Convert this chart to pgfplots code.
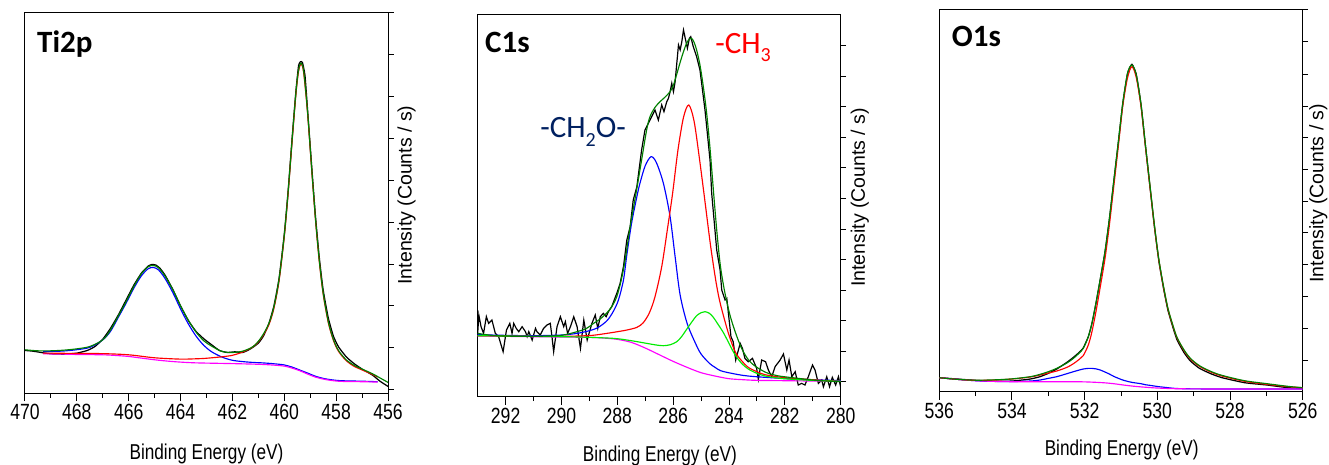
\documentclass[border=0pt]{standalone}
\usepackage{fontspec}
\usepackage{pgfplots}
\pgfplotsset{compat=1.18}
\newfontfamily\narrowfont{Liberation Sans}[FakeStretch=0.8]
\newfontfamily\arialfont{Liberation Sans}
\newfontfamily\calibri{Carlito}
\definecolor{dkgreen}{RGB}{0,128,0}
\definecolor{ltgreen}{RGB}{0,235,0}
\definecolor{navy}{RGB}{0,32,96}
\definecolor{mag}{RGB}{255,0,255}
\pgfplotsset{
 xpsaxis/.style={
  scale only axis, anchor=south west, x dir=reverse,
  axis line style={line width=1pt},
  xtick pos=lower, ytick pos=right, tick align=outside,
  minor x tick num=1,
  major tick length=8pt, minor tick length=4.5pt,
  every tick/.style={black, line width=1pt},
  ytick style={/pgfplots/major tick length=5.5pt},
  yticklabels={},
  /pgf/number format/assume math mode=true,
  /pgf/number format/1000 sep={},
  xticklabel style={font=\narrowfont\fontsize{22}{22}\selectfont},
  xlabel={Binding Energy (eV)},
  ylabel={Intensity (Counts / s)},
  every axis x label/.style={anchor=base, font=\narrowfont\fontsize{21.5}{22}\selectfont},
  every axis y label/.style={rotate=90, anchor=center, font=\arialfont\fontsize{19.5}{20}\selectfont},
  ymin=0, no marks,
  every axis plot/.append style={line width=1.15pt},
 }
}
\begin{document}
\begin{tikzpicture}
\useasboundingbox (0,0) rectangle (1329pt,464pt);
% ---------------- Ti2p ----------------
\begin{axis}[xpsaxis, at={(25pt,71pt)}, width=363pt, height=380pt,
  xmin=456, xmax=470, ymax=1144, xtick={456,458,...,470},
  ytick={10,136,262,388,514,640,766,892,1018,1144},
  xlabel style={at={(axis description cs:0.5,-0.174)}},
  ylabel style={at={(axis description cs:1.051,0.521)}}]
\addplot[black, line width=1.25pt, smooth, tension=0.3] coordinates {
(470.0,128)(469.7,126)(469.3,121)(469.0,118)(468.5,117)(468.0,120)(467.6,128)(467.3,140)
(467.0,162)(466.7,195)(466.4,235)(466.1,280)(465.8,325)(465.5,362)(465.25,382)(465.1,387)
(464.95,385)(464.8,376)(464.6,355)(464.3,312)(464.0,262)(463.7,218)(463.4,185)(463.1,163)
(462.8,145)(462.5,128)(462.2,122)(461.9,124)(461.6,122)(461.3,133)(461.0,150)(460.8,172)
(460.6,208)(460.4,262)(460.2,346)(460.0,478)(459.85,610)(459.7,765)(459.55,910)(459.45,985)
(459.38,997)(459.3,995)(459.2,955)(459.1,850)(458.95,690)(458.8,535)(458.65,408)(458.5,310)
(458.3,225)(458.1,170)(457.9,138)(457.6,108)(457.3,88)(457.0,72)(456.6,54)(456.3,35)(456.0,20)};
\addplot[blue, smooth] coordinates {
(469.3,125)(469.0,125)(468.5,126.5)(468.0,130.4)(467.5,137.5)(467.0,160)(466.7,186)(466.4,228)
(466.1,270.5)(465.8,316)(465.5,354)(465.25,374)(465.05,378)(464.85,370.5)(464.6,345)(464.3,302.5)
(464.0,253)(463.7,208)(463.4,171)(463.1,143)(462.8,124)(462.4,108)(462.0,98.5)(461.6,94.5)
(461.2,92)(460.8,90.5)(460.4,88)(460.0,84.5)(459.7,78)(459.4,69)(459.1,60)(458.8,50.5)
(458.5,44)(458.2,40)(457.8,37)(457.0,35.5)(456.4,34)};
\addplot[mag, smooth] coordinates {
(469.3,118)(468.5,117)(468.0,116)(467.0,115)(466.5,113)(466.0,110)(465.5,105)(465.0,100)
(464.5,96)(464.0,93)(463.5,91)(463.0,90)(462.0,88.5)(461.0,86.5)(460.5,84.5)(460.0,81)
(459.7,75)(459.4,67)(459.1,57)(458.8,48)(458.5,42)(458.2,38)(457.8,35)(457.0,34)(456.4,33)};
\addplot[red, smooth] coordinates {
(469.3,120)(469.0,120)(468.0,119)(467.0,118.5)(466.0,115)(465.0,106)(464.0,102)(463.4,103)
(463.1,104)(462.8,106)(462.4,109)(462.0,113.5)(461.6,123.5)(461.2,139.5)(460.9,164)(460.6,204.5)
(460.4,255)(460.2,338.5)(460.0,471)(459.85,603)(459.7,756)(459.55,901)(459.45,968)(459.35,991)
(459.25,963)(459.1,841)(458.95,680)(458.8,525)(458.65,396)(458.5,298)(458.3,211)(458.1,157.5)
(457.9,124.5)(457.6,96.5)(457.3,80)(457.0,69.5)(456.6,56)(456.4,48)};
\addplot[dkgreen, smooth] coordinates {
(470.0,130)(469.5,127)(469.0,127)(468.5,129)(468.0,133)(467.5,140)(467.0,160)(466.7,190)
(466.4,232)(466.1,275)(465.8,321)(465.5,360)(465.25,380)(465.05,384)(464.85,377)(464.6,352)
(464.3,311)(464.0,262)(463.7,219)(463.4,183)(463.1,157)(462.8,141)(462.4,125)(462.0,122)
(461.6,126)(461.2,140)(460.9,166)(460.6,208)(460.4,259)(460.2,343)(460.0,475)(459.85,607)
(459.7,760)(459.55,905)(459.45,972)(459.35,993)(459.25,967)(459.1,845)(458.95,683)(458.8,528)
(458.65,399)(458.5,301)(458.3,214)(458.1,160)(457.9,127)(457.6,99)(457.3,83)(457.0,72)
(456.6,58)(456.3,45)(456.0,32)};
\node[anchor=base west, inner sep=0pt, font=\calibri\bfseries\fontsize{31}{31}\selectfont]
  at (axis description cs:0.033,0.897) {Ti2p};
\end{axis}
% ---------------- C1s ----------------
\begin{axis}[xpsaxis, at={(477.7pt,67.3pt)}, width=363pt, height=381.7pt,
  xmin=280, xmax=293, ymax=1145, xtick={280,282,...,292},
  ytick={45,137,228,320,412,503,595,687,778,870,962,1053},
  xlabel style={at={(axis description cs:0.502,-0.171)}},
  ylabel style={at={(axis description cs:1.053,0.522)}}]
\addplot[black, line width=1.2pt] coordinates {
(293.0,190)(292.96,245)(292.88,210)(292.79,190)(292.69,240)(292.61,220)(292.49,230)(292.37,190)
(292.25,180)(292.09,135)(291.97,200)(291.85,220)(291.77,190)(291.71,220)(291.62,205)(291.53,195)
(291.41,210)(291.29,195)(291.23,180)(291.17,195)(291.05,170)(290.93,205)(290.88,195)(290.76,185)
(290.64,205)(290.52,215)(290.40,220)(290.34,180)(290.28,135)(290.16,210)(290.04,240)(289.92,210)
(289.86,225)(289.78,190)(289.68,210)(289.56,240)(289.44,210)(289.32,145)(289.20,230)(289.08,170)
(288.91,220)(288.79,245)(288.70,205)(288.61,240)(288.5,250)(288.4,240)(288.32,255)(288.2,270)
(288.02,310)(287.9,340)(287.78,390)(287.66,470)(287.54,510)(287.43,590)(287.3,630)(287.13,740)
(287.01,800)(286.95,810)(286.77,840)(286.65,860)(286.53,830)(286.41,875)(286.33,855)(286.23,885)
(286.17,895)(286.11,915)(286.05,940)(285.99,915)(285.93,945)(285.81,1055)(285.75,1040)(285.69,1065)
(285.63,1100)(285.58,1080)(285.49,1045)(285.42,1075)(285.37,1080)(285.28,1050)(285.16,1020)(285.04,980)
(284.98,940)(284.86,860)(284.74,760)(284.68,710)(284.62,610)(284.44,440)(284.32,380)(284.26,320)
(284.14,290)(284.08,295)(283.93,180)(283.85,165)(283.76,110)(283.6,160)(283.52,145)(283.43,115)
(283.31,105)(283.16,115)(283.01,85)(282.95,52)(282.83,110)(282.69,105)(282.59,80)(282.47,60)
(282.35,90)(282.17,110)(282.05,128)(281.93,80)(281.85,110)(281.75,60)(281.63,75)(281.52,35)
(281.4,40)(281.28,35)(281.16,60)(281.01,95)(280.92,80)(280.8,40)(280.68,50)(280.62,30)
(280.5,60)(280.4,30)(280.3,58)(280.18,35)(280.08,60)(280.0,28)};
\addplot[blue, smooth] coordinates {
(293.0,186)(292.0,184)(291.0,183)(290.0,185)(289.44,190)(289.0,198)(288.7,207)(288.37,228)
(288.15,255)(287.96,290)(287.78,350)(287.66,425)(287.49,520)(287.3,600)(287.19,640)(287.0,693)
(286.79,720)(286.6,702)(286.35,640)(286.11,540)(285.93,420)(285.75,305)(285.5,220)(285.2,160)
(285.0,128)(284.7,100)(284.5,88)(284.3,78)(283.9,70)(283.31,62)(282.11,55)(281.0,51)(280.0,48)};
\addplot[mag, smooth] coordinates {
(293.0,182)(292.0,181)(291.0,180)(290.0,179)(289.0,178)(288.5,176)(288.0,172)(287.5,163)
(287.0,146)(286.5,126)(286.0,106)(285.5,88)(285.0,72)(284.5,62)(284.0,54)(283.5,51)
(283.0,49)(282.0,48)(281.0,47)(280.0,46)};
\addplot[red, smooth] coordinates {
(293.0,183)(292.0,182)(291.0,181)(290.0,181)(289.44,182)(288.9,184)(288.37,190)(288.0,195)
(287.66,200)(287.3,208)(287.07,222)(286.85,252)(286.65,300)(286.41,390)(286.21,500)(286.02,610)
(285.83,739)(285.63,838)(285.44,875)(285.25,826)(285.06,715)(284.86,585)(284.67,459)(284.5,362)
(284.38,305)(284.26,262)(284.02,190)(283.78,135)(283.55,108)(283.31,88)(283.0,75)(282.71,66)
(282.1,58)(281.52,54)(281.0,51)(280.5,48)(280.0,46)};
\addplot[ltgreen, smooth] coordinates {
(293.0,183)(292.0,182)(291.0,181)(290.0,180)(289.34,179)(288.14,175)(287.5,168)(286.95,160)
(286.6,155)(286.35,153)(286.1,156)(285.87,165)(285.7,180)(285.51,203)(285.3,228)(285.16,243)
(285.0,252)(284.86,255)(284.7,250)(284.56,238)(284.4,218)(284.2,192)(284.0,160)(283.8,128)
(283.55,100)(283.31,83)(283.0,70)(282.7,62)(282.17,55)(281.5,51)(281.0,49)(280.0,46)};
\addplot[dkgreen, smooth] coordinates {
(293.0,190)(292.5,184)(292.0,182)(291.5,181)(291.0,181)(290.5,182)(290.0,184)(289.44,195)
(289.1,205)(288.85,220)(288.6,234)(288.37,252)(288.2,270)(288.02,300)(287.86,350)(287.72,410)
(287.54,510)(287.31,620)(287.13,710)(286.95,800)(286.83,840)(286.65,868)(286.47,885)(286.3,898)
(286.11,915)(285.99,935)(285.87,968)(285.75,1003)(285.63,1035)(285.52,1060)(285.42,1073)(285.34,1075)
(285.25,1063)(285.16,1040)(285.04,995)(284.92,930)(284.8,850)(284.68,745)(284.56,620)(284.44,500)
(284.32,400)(284.2,335)(284.08,285)(283.95,240)(283.78,195)(283.55,145)(283.3,110)(283.07,92)
(282.8,78)(282.59,70)(282.2,62)(281.52,55)(281.0,50)(280.5,47)(280.0,45)};
\node[anchor=base west, inner sep=0pt, font=\calibri\bfseries\fontsize{31}{31}\selectfont]
  at (axis description cs:0.020,0.903) {C1s};
\node[anchor=base west, inner sep=0pt, text=navy, font=\calibri\fontsize{31}{31}\selectfont]
  at (axis description cs:0.172,0.678) {-CH\raisebox{-0.28em}{\fontsize{20}{20}\selectfont 2}O-};
\node[anchor=base west, inner sep=0pt, text=red, font=\calibri\fontsize{31}{31}\selectfont]
  at (axis description cs:0.654,0.900) {-CH\raisebox{-0.28em}{\fontsize{20}{20}\selectfont 3}};
\end{axis}
% ---------------- O1s ----------------
\begin{axis}[xpsaxis, at={(939.3pt,72.3pt)}, width=363.4pt, height=381.7pt,
  xmin=526, xmax=536, ymax=1145, xtick={526,528,...,536},
  ytick={95,190,287,382,477,572,667,762,857,953,1050,1145},
  xlabel style={at={(axis description cs:0.502,-0.168)}},
  ylabel style={at={(axis description cs:1.043,0.52)}}]
\addplot[black, line width=1.25pt, smooth, tension=0.3] coordinates {
(536.0,42)(535.5,38)(535.0,34)(534.5,31)(534.0,32)(533.5,38)(533.23,45)(533.0,55)
(532.77,68)(532.49,88)(532.31,103)(532.15,118)(532.04,131)(531.9,165)(531.8,205)(531.69,265)
(531.57,338)(531.44,420)(531.32,518)(531.20,630)(531.07,752)(530.95,866)(530.82,955)(530.7,982)
(530.58,952)(530.45,862)(530.33,740)(530.20,612)(530.08,495)(529.96,393)(529.83,310)(529.71,245)
(529.58,196)(529.46,156)(529.27,118)(529.09,92)(528.84,70)(528.53,54)(528.22,42)(527.6,27)
(526.98,20)(526.4,12)(526.0,10)};
\addplot[blue, smooth] coordinates {
(536.0,42)(535.5,37)(535.0,33)(534.5,31)(534.0,30.5)(533.5,32)(533.23,35)(533.0,40)
(532.77,45)(532.49,54)(532.31,60)(532.15,65)(532.04,68)(531.9,70)(531.8,70)(531.69,68.5)
(531.57,65)(531.44,59)(531.32,53)(531.20,46)(531.07,40)(530.95,35)(530.82,31)(530.7,28)
(530.58,26)(530.45,24)(530.33,21)(530.20,19)(530.08,17)(529.96,15)(529.83,13.5)(529.71,12)
(529.58,10.5)(529.46,9.5)(529.0,8.5)(528.0,8)(526.0,8)};
\addplot[mag, smooth] coordinates {
(536.0,42)(535.5,37)(535.0,33)(534.5,31)(534.0,30)(533.0,30)(532.5,30)(532.0,29.5)
(531.5,27)(531.2,24)(531.0,21)(530.7,17)(530.4,14)(530.0,11)(529.5,9)(529.0,8.5)(528.0,8)(526.0,8)};
\addplot[red, smooth] coordinates {
(536.0,42)(535.5,37)(535.0,34)(534.5,35)(534.0,38)(533.5,44)(533.23,50)(533.0,56)
(532.77,62)(532.49,73)(532.31,84)(532.15,97)(532.04,108)(531.9,140)(531.8,180)(531.69,240)
(531.57,315)(531.44,400)(531.32,500)(531.20,615)(531.07,740)(530.95,858)(530.82,942)(530.7,975)
(530.58,942)(530.45,856)(530.33,737)(530.20,611)(530.08,495)(529.96,395)(529.83,313)(529.71,249)
(529.58,200)(529.46,162)(529.27,124)(529.09,98)(528.84,76)(528.53,59)(528.22,47)(527.6,31)
(526.98,22)(526.4,15)(526.0,12)};
\addplot[dkgreen, smooth] coordinates {
(536.0,42)(535.5,37)(535.0,34.5)(534.5,35.5)(534.0,38.5)(533.5,45)(533.23,52)(533.0,60)
(532.77,70)(532.49,86)(532.31,100)(532.15,116)(532.04,130)(531.9,165)(531.8,205)(531.69,265)
(531.57,338)(531.44,420)(531.32,518)(531.20,630)(531.07,752)(530.95,866)(530.82,955)(530.7,980)
(530.58,950)(530.45,862)(530.33,742)(530.20,616)(530.08,499)(529.96,398)(529.83,316)(529.71,251)
(529.58,202)(529.46,163)(529.27,126)(529.09,100)(528.84,78)(528.53,61)(528.22,49)(527.6,33)
(526.98,24)(526.4,16)(526.0,12)};
\node[anchor=base west, inner sep=0pt, font=\calibri\bfseries\fontsize{31}{31}\selectfont]
  at (axis description cs:0.034,0.904) {O1s};
\end{axis}
\end{tikzpicture}
\end{document}
